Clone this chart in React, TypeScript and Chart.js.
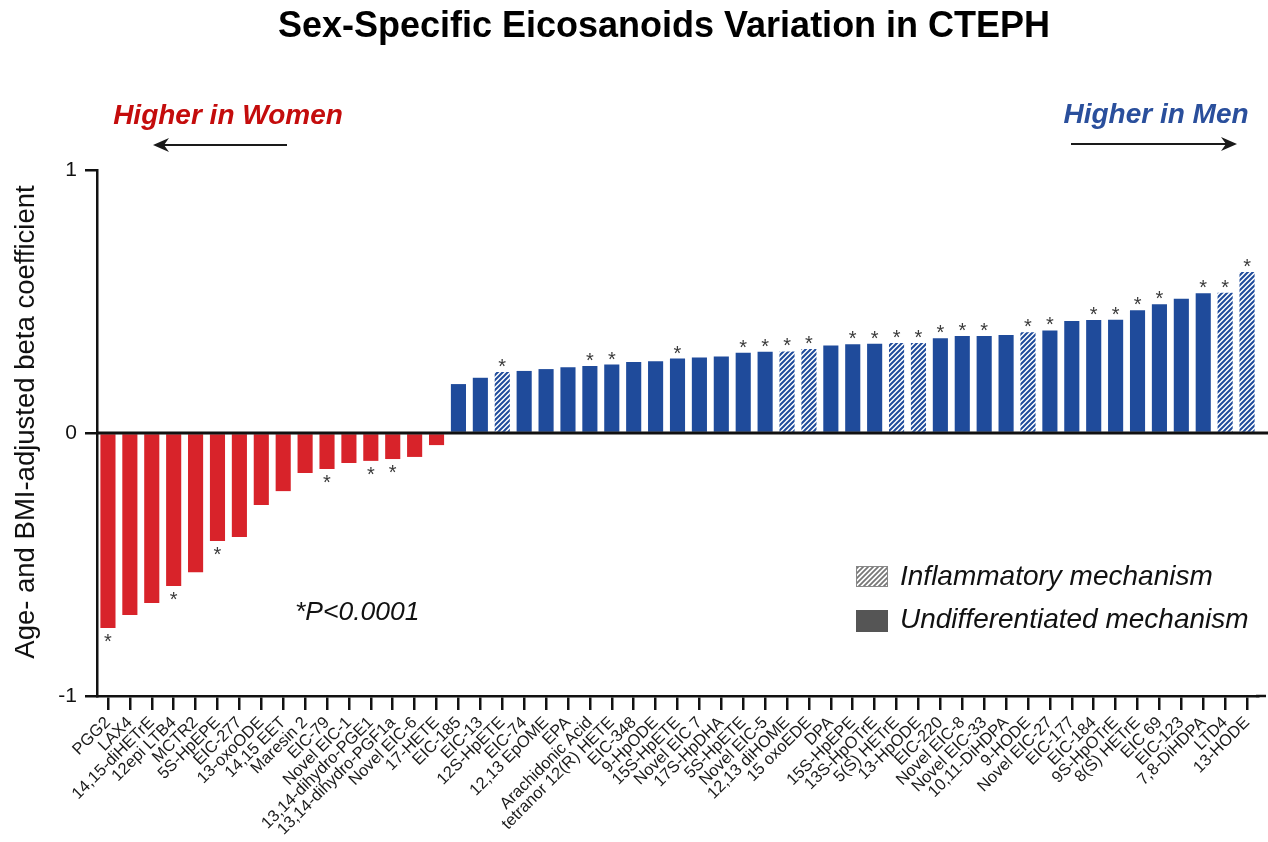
import React, { useEffect, useRef } from "react";
import { Chart, registerables } from "chart.js";

Chart.register(...registerables);

const FONT = "'Liberation Sans', Arial, Helvetica, sans-serif";

const TITLE = "Sex-Specific Eicosanoids Variation in CTEPH";
const Y_TITLE = "Age- and BMI-adjusted beta coefficient";
const LEFT_NOTE = "Higher in Women";
const RIGHT_NOTE = "Higher in Men";
const P_NOTE = "*P<0.0001";
const LEGEND_LABELS = ["Inflammatory mechanism", "Undifferentiated mechanism"];

const categories = [
  "PGG2", "LAX4", "14,15-diHETrE", "12epi LTB4", "MCTR2", "5S-HpEPE", "EIC-277", "13-oxoODE",
  "14,15 EET", "Maresin 2", "EIC-79", "Novel EIC-1", "13,14-dihydro-PGE1", "13,14-dihydro-PGF1a",
  "Novel EIC-6", "17-HETE",
  "EIC-185", "EIC-13", "12S-HpETE", "EIC-74", "12,13 EpOME", "EPA", "Arachidonic Acid",
  "tetranor 12(R) HETE", "EIC-348", "9-HpODE", "15S-HpETE", "Novel EIC 7", "17S-HpDHA",
  "5S-HpETE", "Novel EIC-5", "12,13 diHOME", "15 oxoEDE", "DPA", "15S-HpEPE", "13S-HpOTrE",
  "5(S) HETrE", "13-HpODE", "EIC-220", "Novel EIC-8", "Novel EIC-33", "10,11-DiHDPA", "9-HODE",
  "Novel EIC-27", "EIC-177", "EIC-184", "9S-HpOTrE", "8(S) HETrE", "EIC 69", "EIC-123",
  "7,8-DiHDPA", "LTD4", "13-HODE",
];

const womenValues = [
  -0.741, -0.692, -0.646, -0.582, -0.529, -0.411, -0.395, -0.274,
  -0.221, -0.152, -0.137, -0.114, -0.106, -0.099, -0.091, -0.046,
];

const menValues = [
  0.186, 0.21, 0.232, 0.236, 0.243, 0.25, 0.255, 0.26, 0.27, 0.273,
  0.283, 0.287, 0.291, 0.305, 0.309, 0.31, 0.319, 0.333, 0.337, 0.339,
  0.342, 0.342, 0.36, 0.369, 0.369, 0.373, 0.383, 0.39, 0.426, 0.43,
  0.431, 0.467, 0.49, 0.51, 0.531, 0.533, 0.612,
];

const values = [...womenValues, ...menValues];

const inflammatory = [
  "12S-HpETE", "12,13 diHOME", "15 oxoEDE", "5(S) HETrE", "13-HpODE", "9-HODE", "LTD4", "13-HODE",
];

const significant = [
  "PGG2", "12epi LTB4", "5S-HpEPE", "EIC-79", "13,14-dihydro-PGE1", "13,14-dihydro-PGF1a",
  "12S-HpETE", "Arachidonic Acid", "tetranor 12(R) HETE", "15S-HpETE", "5S-HpETE", "Novel EIC-5",
  "12,13 diHOME", "15 oxoEDE", "15S-HpEPE", "13S-HpOTrE", "5(S) HETrE", "13-HpODE", "EIC-220",
  "Novel EIC-8", "Novel EIC-33", "9-HODE", "Novel EIC-27", "EIC-184", "9S-HpOTrE", "8(S) HETrE",
  "EIC 69", "7,8-DiHDPA", "LTD4", "13-HODE",
];

const yTicks = [-1, 0, 1];

const RED = "#d8232a";
const BLUE = "#1f4b9b";
const RED_TEXT = "#c40c0c";
const BLUE_TEXT = "#2a4f9c";

function makeHatch(color: string, bg: string, size = 5, lw = 2) {
  const c = document.createElement("canvas");
  c.width = size;
  c.height = size;
  const g = c.getContext("2d")!;
  g.fillStyle = bg;
  g.fillRect(0, 0, size, size);
  g.strokeStyle = color;
  g.lineWidth = lw;
  g.beginPath();
  g.moveTo(-1, size + 1);
  g.lineTo(size + 1, -1);
  g.moveTo(-2, 2);
  g.lineTo(2, -2);
  g.moveTo(size - 2, size + 2);
  g.lineTo(size + 2, size - 2);
  g.stroke();
  return g.createPattern(c, "repeat")!;
}

function drawArrow(ctx: CanvasRenderingContext2D, x1: number, x2: number, y: number) {
  const dir = Math.sign(x2 - x1);
  ctx.save();
  ctx.strokeStyle = "#1a1a1a";
  ctx.fillStyle = "#1a1a1a";
  ctx.lineWidth = 2.2;
  ctx.beginPath();
  ctx.moveTo(x1, y);
  ctx.lineTo(x2 - dir * 8, y);
  ctx.stroke();
  ctx.beginPath();
  ctx.moveTo(x2, y);
  ctx.lineTo(x2 - dir * 16, y - 7);
  ctx.lineTo(x2 - dir * 11, y);
  ctx.lineTo(x2 - dir * 16, y + 7);
  ctx.closePath();
  ctx.fill();
  ctx.restore();
}

const decorPlugin = {
  id: "decor",
  afterDatasetsDraw(chart: any) {
    const ctx: CanvasRenderingContext2D = chart.ctx;
    const { chartArea, scales } = chart;
    const y0 = scales.y.getPixelForValue(0);
    ctx.save();
    ctx.strokeStyle = "#111";
    ctx.lineWidth = 3;
    ctx.beginPath();
    ctx.moveTo(chartArea.left, y0);
    ctx.lineTo(chart.width, y0);
    ctx.stroke();
    ctx.lineWidth = 2.5;
    ctx.beginPath();
    ctx.moveTo(chartArea.right - 2, chartArea.bottom);
    ctx.lineTo(chart.width - 2, chartArea.bottom);
    ctx.stroke();

    const meta = chart.getDatasetMeta(0);
    ctx.font = `20px ${FONT}`;
    ctx.fillStyle = "#3a3a3a";
    ctx.textAlign = "center";
    ctx.textBaseline = "alphabetic";
    const m = ctx.measureText("*");
    const off = (m.actualBoundingBoxAscent - m.actualBoundingBoxDescent) / 2;
    categories.forEach((c, i) => {
      if (!significant.includes(c)) return;
      const el = meta.data[i];
      const v = values[i];
      const cy = v >= 0 ? el.y - 9 : el.y + 10;
      ctx.fillText("*", el.x, cy + off);
    });
    ctx.restore();
  },
  afterDraw(chart: any) {
    const ctx: CanvasRenderingContext2D = chart.ctx;
    ctx.save();
    ctx.fillStyle = "#000";
    ctx.textAlign = "center";
    ctx.textBaseline = "alphabetic";
    ctx.font = `bold 36px ${FONT}`;
    ctx.fillText(TITLE, 664, 37);

    ctx.font = `italic bold 28px ${FONT}`;
    ctx.fillStyle = RED_TEXT;
    ctx.fillText(LEFT_NOTE, 228, 124);
    ctx.fillStyle = BLUE_TEXT;
    ctx.fillText(RIGHT_NOTE, 1156, 123);
    drawArrow(ctx, 287, 153, 145);
    drawArrow(ctx, 1071, 1237, 144);

    ctx.save();
    ctx.translate(26, 422);
    ctx.rotate(-Math.PI / 2);
    ctx.fillStyle = "#111";
    ctx.font = `27.5px ${FONT}`;
    ctx.textBaseline = "middle";
    ctx.fillText(Y_TITLE, 0, 0);
    ctx.restore();

    ctx.font = `italic 26.5px ${FONT}`;
    ctx.fillStyle = "#111";
    ctx.textAlign = "left";
    ctx.textBaseline = "middle";
    ctx.fillText(P_NOTE, 295, 613);

    const grayHatch = makeHatch("#777", "#fff", 5, 1.8);
    ctx.fillStyle = grayHatch;
    ctx.fillRect(856, 566, 32, 21);
    ctx.strokeStyle = "#888";
    ctx.lineWidth = 1;
    ctx.strokeRect(856.5, 566.5, 31, 20);
    ctx.fillStyle = "#555";
    ctx.fillRect(856, 610, 32, 22);
    ctx.fillStyle = "#111";
    ctx.font = `italic 28px ${FONT}`;
    ctx.fillText(LEGEND_LABELS[0], 900, 577);
    ctx.fillText(LEGEND_LABELS[1], 900, 620);
    ctx.restore();
  },
};

export default function App() {
  const ref = useRef<HTMLCanvasElement>(null);

  useEffect(() => {
    const canvas = ref.current!;
    const hatch = makeHatch(BLUE, "#fff", 5, 2);
    const colors = categories.map((c, i) =>
      values[i] < 0 ? RED : inflammatory.includes(c) ? hatch : BLUE
    );
    const chart = new Chart(canvas, {
      type: "bar",
      data: {
        labels: categories,
        datasets: [
          {
            data: values,
            backgroundColor: colors as any,
            borderWidth: 0,
            barPercentage: 0.69,
            categoryPercentage: 1,
          },
        ],
      },
      options: {
        responsive: false,
        animation: false,
        devicePixelRatio: 1,
        layout: { padding: { top: 170, right: 10, left: 0, bottom: 0 } },
        plugins: {
          legend: { display: false },
          tooltip: { enabled: false },
          title: { display: false },
        },
        scales: {
          x: {
            offset: true,
            grid: {
              display: true,
              drawOnChartArea: false,
              offset: false,
              color: "#111",
              lineWidth: 2.5,
              tickLength: 14,
              tickWidth: 2.5,
            },
            border: { display: true, color: "#111", width: 2.5 },
            ticks: {
              autoSkip: false,
              maxRotation: 45,
              minRotation: 45,
              color: "#1a1a1a",
              font: { family: FONT, size: 16.5 },
              padding: 3,
            },
            afterFit: (s: any) => {
              s.height = 146;
            },
          },
          y: {
            min: yTicks[0],
            max: yTicks[yTicks.length - 1],
            afterBuildTicks: (s: any) => {
              s.ticks = yTicks.map((v) => ({ value: v }));
            },
            ticks: {
              color: "#111",
              font: { family: FONT, size: 21 },
              padding: 8,
            },
            grid: {
              drawOnChartArea: false,
              color: "#111",
              lineWidth: 2.5,
              tickLength: 12,
            },
            border: { color: "#111", width: 2.5 },
            afterFit: (s: any) => {
              s.width = 97;
            },
          },
        },
      },
      plugins: [decorPlugin],
    });
    return () => chart.destroy();
  }, []);

  return (
    <div style={{ position: "absolute", left: 0, top: 0, width: 1268, height: 842, background: "#fff" }}>
      <canvas ref={ref} width={1268} height={842} style={{ display: "block" }} />
    </div>
  );
}
